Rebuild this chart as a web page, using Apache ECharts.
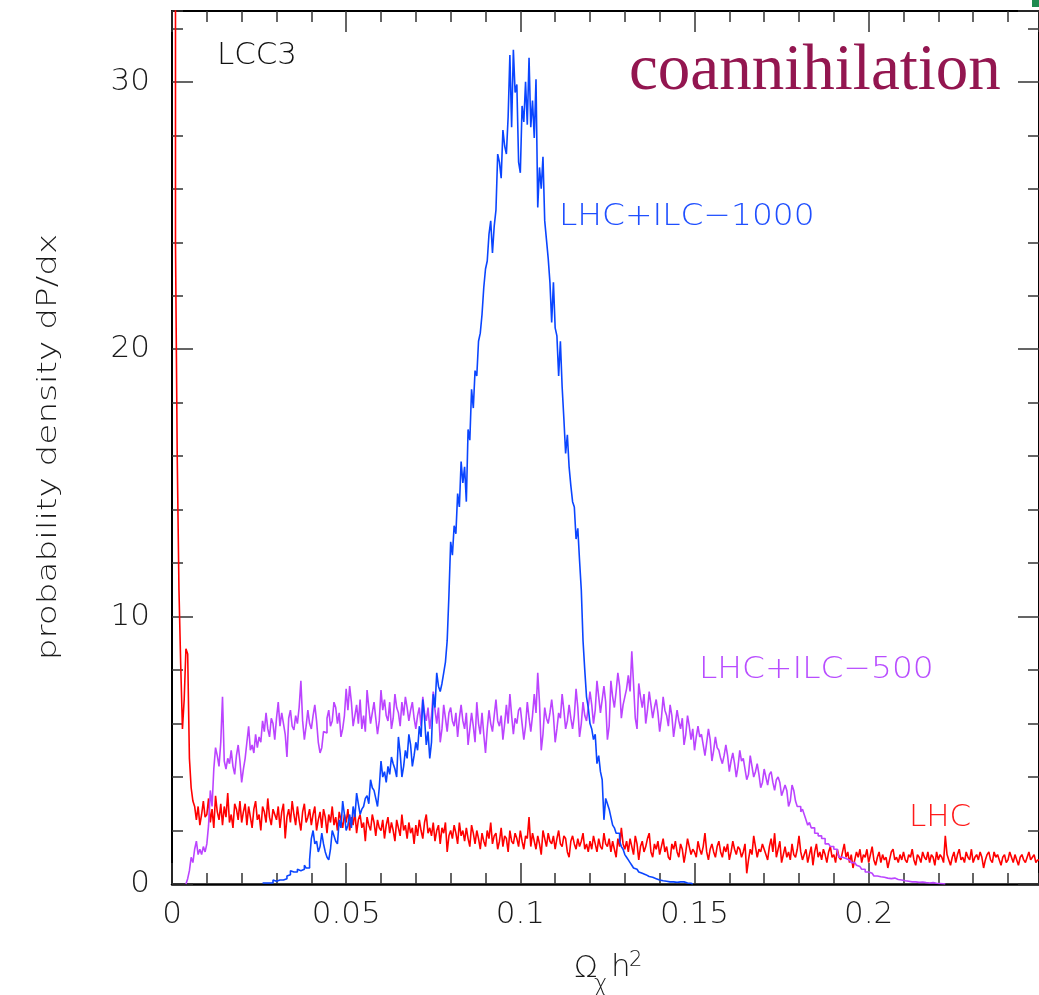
<!DOCTYPE html>
<html>
<head>
<meta charset="utf-8">
<script src="https://cdn.jsdelivr.net/npm/echarts@6/dist/echarts.min.js"></script>
<style>
  html, body { margin: 0; padding: 0; background: #fff; }
  #chart { width: 1039px; height: 995px; }
</style>
</head>
<body>
<div id="chart"></div>
<script>
// histogram bins, width 0.0005 in Omega h^2
const binWidth = 0.0005

// LHC (red), bins starting at 0, one row = 0.01
const lhcStart = 0
const lhc = [
  60, 60, 24, 16, 11, 8.2, 5.8, 6.9, 8.8, 8.6, 4.7, 3.6, 3.1, 2.9, 2.4, 2.9, 2.2, 2.6, 3.1, 2.5,
  2.6, 3.2, 2.3, 2.8, 2.1, 3.3, 2.7, 2.4, 3.0, 2.2, 2.9, 2.5, 3.4, 2.3, 2.6, 2.1, 3.0, 2.8, 2.4, 3.1,
  2.3, 2.7, 3.0, 2.2, 2.9, 2.5, 2.1, 2.8, 3.1, 2.4, 2.6, 2.0, 2.9, 2.7, 2.3, 3.2, 2.5, 2.2, 2.8, 2.6,
  2.4, 2.9, 2.1, 2.7, 3.0, 1.7, 2.5, 2.8, 2.3, 3.1, 2.6, 2.2, 2.9, 2.4, 2.0, 2.7, 3.0, 2.3, 2.5, 2.8,
  2.2, 2.6, 2.9, 2.0, 2.4, 2.7, 2.1, 2.8, 2.5, 1.9, 2.6, 2.3, 2.9, 2.2, 2.5, 2.0, 2.7, 2.4, 2.1, 2.6,
  2.3, 2.8, 2.0, 2.5, 2.2, 2.7, 1.9, 2.4, 2.6, 2.1, 2.3, 1.6, 2.5, 2.2, 2.0, 2.6, 2.3, 1.8, 2.4, 2.1,
  2.0, 2.4, 1.7, 2.2, 2.5, 1.9, 2.3, 2.0, 1.6, 2.4, 2.1, 1.8, 2.6, 2.0, 2.2, 1.7, 2.3, 1.9, 2.1, 1.5,
  2.2, 1.8, 2.4, 2.0, 1.7, 2.3, 2.6, 1.9, 2.1, 1.8, 2.3, 1.6, 2.0, 2.2, 1.5, 2.1, 1.9, 2.3, 1.2, 1.8,
  2.0, 1.7, 2.2, 1.9, 1.5, 2.3, 1.8, 2.0, 1.6, 2.1, 1.7, 1.4, 2.2, 1.9, 1.5, 2.0, 1.7, 1.3, 1.9, 1.6,
  1.4, 2.0, 1.7, 2.3, 1.5, 1.8, 1.9, 1.3, 1.6, 2.1, 1.4, 1.8, 1.7, 1.2, 2.0, 1.6, 1.5, 1.9, 1.7, 1.4,
  2.0, 1.6, 1.3, 1.8, 1.7, 2.5, 1.4, 1.9, 1.6, 1.3, 1.8, 1.5, 1.1, 2.0, 1.7, 1.4, 1.9, 1.6, 1.5, 1.8,
  1.3, 1.7, 2.0, 1.5, 1.4, 1.8, 1.7, 1.2, 1.0, 1.6, 1.8, 1.5, 1.3, 1.7, 1.4, 1.6, 1.9, 1.3, 1.5, 1.2,
  1.6, 1.3, 1.8, 1.5, 1.2, 1.7, 1.4, 1.3, 1.9, 1.5, 1.4, 1.7, 1.2, 1.6, 1.3, 1.0, 1.7, 1.4, 2.1, 1.5,
  1.3, 1.6, 1.2, 1.7, 1.4, 1.1, 1.8, 1.5, 0.9, 1.4, 1.6, 1.2, 1.4, 1.7, 1.9, 1.2, 1.0, 1.5, 1.3, 1.6,
  1.1, 1.4, 1.7, 1.2, 1.4, 1.0, 0.9, 1.5, 1.3, 1.6, 1.2, 1.0, 1.5, 1.3, 0.8, 1.2, 1.7, 1.4, 1.1, 1.3,
  1.2, 1.0, 1.6, 1.3, 1.1, 1.4, 1.9, 1.2, 0.9, 1.3, 1.5, 1.2, 1.0, 1.4, 1.6, 1.2, 1.0, 1.4, 1.2, 1.5,
  0.9, 1.2, 1.6, 1.3, 1.1, 1.4, 1.3, 1.0, 1.2, 1.5, 0.4, 0.9, 1.3, 1.1, 1.8, 1.4, 1.0, 1.3, 1.2, 1.5,
  1.3, 1.1, 0.9, 1.4, 1.7, 1.2, 1.9, 1.0, 1.3, 1.6, 0.8, 1.1, 1.4, 1.0, 1.2, 0.9, 1.5, 1.1, 1.0, 1.3,
  1.8, 1.2, 0.9, 1.1, 1.3, 0.8, 1.1, 1.4, 0.7, 1.2, 1.5, 1.0, 1.2, 0.9, 1.3, 1.1, 0.8, 1.2, 1.4, 1.0,
  1.1, 0.8, 1.3, 1.0, 0.9, 1.2, 1.5, 1.0, 1.2, 0.8, 1.1, 0.6, 0.9, 1.2, 1.0, 1.3, 0.8, 1.1, 1.0, 1.3,
  0.8, 1.1, 1.4, 0.9, 0.7, 1.0, 1.2, 0.8, 1.1, 0.9, 1.0, 0.6, 0.9, 1.2, 1.3, 0.9, 1.0, 0.8, 1.1, 0.9,
  1.2, 0.9, 0.8, 1.1, 1.0, 1.3, 0.9, 0.7, 1.1, 1.0, 0.8, 1.2, 1.0, 0.9, 1.2, 0.8, 1.1, 1.0, 0.7, 1.2,
  0.9, 1.1, 1.0, 0.8, 1.8, 1.1, 0.9, 0.7, 1.0, 1.2, 0.8, 1.1, 1.3, 0.9, 1.0, 0.8, 1.2, 1.0, 0.9, 1.3,
  0.8, 1.0, 1.1, 0.9, 1.2, 1.0, 0.6, 0.9, 1.1, 1.2, 0.9, 0.8, 1.2, 1.0, 1.1, 0.9, 0.7, 1.0, 1.1, 0.8,
  0.9, 1.2, 1.0, 0.8, 1.1, 0.9, 0.7, 1.0, 1.1, 0.9, 0.8, 1.0, 1.2, 0.9, 1.0, 1.1, 0.8, 0.9
]

// LHC+ILC-500 (purple), bins starting at 0.004
const ilc500Start = 0.004
const ilc500 = [
  0, 0.2, 0.5, 1.0, 0.8, 1.3, 1.6, 1.1, 1.3, 1.1, 1.4, 1.2,
  1.5, 2.2, 3.5, 2.9, 4.3, 5.1, 4.8, 4.4, 5.3, 7.0, 4.6, 4.3, 4.7, 4.5, 5.0, 4.4, 4.1, 4.8, 5.2, 4.6,
  3.8, 4.3, 4.7, 5.3, 5.9, 5.0, 5.2, 4.9, 5.6, 5.1, 5.5, 5.3, 6.1, 5.7, 6.4, 5.8, 5.5, 6.2, 6.0, 5.4,
  6.2, 6.8, 5.9, 6.4, 6.0, 5.6, 4.75, 6.2, 6.5, 5.9, 5.76, 6.3, 6.0, 6.6, 7.6, 6.1, 5.4, 5.9, 6.5, 6.0,
  5.8, 6.3, 6.7, 6.1, 5.3, 4.9, 5.1, 5.7, 5.65, 6.2, 6.5, 5.9, 6.1, 6.8, 6.6, 6.0, 6.4, 5.5, 5.8, 6.3,
  7.3, 6.5, 7.4, 6.8, 5.9, 6.3, 6.7, 6.0, 6.9, 5.8, 6.3, 5.7, 7.25, 6.6, 6.0, 6.4, 6.8, 6.2, 5.6, 6.1,
  7.25, 6.5, 6.9, 6.3, 6.1, 6.8, 5.8, 6.2, 7.1, 6.6, 6.4, 5.9, 6.8, 6.3, 7.0, 6.6, 6.1, 6.5, 6.8, 6.2,
  5.8, 6.3, 6.6, 5.9, 7.0, 6.4, 6.1, 6.6, 5.8, 6.3, 7.2, 6.5, 6.0, 6.6, 5.3, 5.8, 6.7, 6.2, 5.7, 6.4,
  6.6, 6.1, 5.9, 6.4, 5.5, 6.2, 6.7, 6.1, 5.8, 6.4, 5.2, 5.8, 6.4, 5.9, 5.3, 6.8, 6.0, 5.6, 6.4, 5.6,
  4.9, 5.8, 6.5, 6.0, 5.7, 6.3, 6.9, 6.1, 5.9, 6.3, 5.4, 6.0, 6.7, 6.0, 7.1, 6.3, 5.6, 6.2, 6.0, 6.5,
  6.6, 6.0, 5.4, 5.9, 6.8, 6.2, 5.7, 6.3, 7.1, 6.4, 7.9, 6.8, 5.0, 5.6, 6.6, 6.2, 6.0, 6.4, 6.9, 6.3,
  5.3, 5.8, 6.4, 6.2, 7.1, 6.5, 5.8, 6.1, 6.7, 6.2, 5.8, 6.3, 7.3, 6.6, 5.5, 6.0, 6.8, 6.3, 6.1, 6.6,
  7.2, 6.7, 6.0, 6.5, 7.6, 7.0, 6.4, 6.9, 7.4, 6.8, 5.4, 5.9, 7.6, 7.0, 6.6, 7.2, 7.9, 7.4, 6.2, 6.7,
  7.0, 7.3, 7.8, 7.2, 8.7, 7.5, 6.2, 5.8, 7.5, 7.0, 6.6, 7.1, 6.0, 6.5, 7.2, 6.7, 6.2, 6.6, 6.9, 6.4,
  5.7, 6.2, 7.0, 6.5, 6.3, 5.9, 6.7, 6.3, 5.5, 6.0, 6.5, 6.1, 5.8, 6.2, 5.2, 5.6, 6.3, 5.9, 5.4, 5.8,
  5.0, 5.5, 5.9, 5.5, 5.6, 5.2, 4.8, 5.3, 5.8, 5.4, 4.6, 5.0, 5.5, 5.1, 5.0, 4.7, 4.5, 4.8, 5.2, 4.8,
  4.2, 4.6, 4.9, 4.5, 4.0, 4.4, 5.0, 4.6, 4.7, 4.3, 3.9, 4.1, 4.8, 4.4, 4.0, 4.2, 4.5, 4.1, 3.6, 3.8,
  4.3, 4.0, 3.7, 4.1, 4.2, 3.8, 3.5, 3.9, 4.0, 3.8, 3.3, 3.5, 3.7, 3.5, 2.9, 3.1, 3.7, 3.5, 3.1, 2.9,
  2.9, 2.7, 2.8, 2.6, 2.4, 2.2, 2.3, 2.1, 2.1, 1.9, 1.9, 1.8, 1.8, 1.7, 1.7, 1.5, 1.5, 1.5, 1.4, 1.4,
  1.3, 1.3, 1.2, 1.0, 1.0, 1.0, 0.95, 0.9, 0.9, 0.85, 0.8, 0.8, 0.75, 0.7, 0.65, 0.6, 0.55, 0.55, 0.45, 0.45,
  0.4, 0.4, 0.35, 0.3, 0.3, 0.3, 0.27, 0.27, 0.25, 0.25, 0.22, 0.22, 0.2, 0.2, 0.22, 0.2, 0.17, 0.17, 0.15, 0.15,
  0.12, 0.12, 0.1, 0.1, 0.08, 0.08, 0.08, 0.08, 0.06, 0.06, 0.07, 0.07, 0.05, 0.05, 0.04, 0.04, 0.05, 0.03, 0.03, 0.02,
  0.02, 0.01, 0.01, 0
]

// LHC+ILC-1000 (blue), bins starting at 0.026
const ilc1000Start = 0.026
const ilc1000 = [
  0.04, 0.04, 0, 0.04, 0.08, 0.04, 0.15, 0.1,
  0.12, 0.15, 0.2, 0.15, 0.15, 0.2, 0.3, 0.35, 0.5, 0.45, 0.4, 0.45, 0.55, 0.5, 0.45, 0.55, 0.7, 0.6, 0.6, 0.9,
  1.7, 2.0, 1.5, 1.6, 1.2, 1.4, 1.9, 1.5, 1.2, 1.0, 0.9, 1.3, 2.0, 1.8, 1.6, 1.5, 2.4, 2.1, 3.1, 2.6,
  2.0, 2.2, 2.6, 2.1, 2.9, 2.5, 3.4, 3.0, 2.6, 2.8, 2.9, 3.2, 3.3, 3.0, 3.9, 3.6, 3.5, 3.2, 2.9, 3.6,
  4.6, 4.0, 4.2, 3.8, 4.4, 4.1, 4.75, 4.5, 4.3, 4.0, 5.5, 4.9, 4.0, 4.4, 5.0, 4.7, 5.6, 5.2, 4.4, 4.8,
  5.3, 5.0, 5.9, 5.5, 6.9, 6.2, 5.2, 5.7, 4.7, 5.3, 7.1, 6.6, 7.9, 7.4, 7.2, 7.5, 7.9, 8.3, 9.1, 10.8,
  12.8, 12.3, 13.4, 13.1, 14.6, 14.1, 15.8, 15.0, 15.6, 14.3, 17.0, 16.6, 18.5, 17.8, 19.2, 19.0, 20.3, 20.6, 21.3, 22.3,
  23.0, 23.3, 24.3, 24.8, 23.6, 24.6, 25.2, 27.3, 27.0, 26.4, 28.2, 27.6, 27.3, 28.7, 31.0, 28.3, 31.2, 29.6, 29.9, 27.0,
  26.6, 29.1, 28.5, 30.0, 28.4, 30.9, 28.3, 29.3, 27.9, 30.1, 25.3, 26.8, 26.0, 27.2, 24.8, 24.1, 23.4, 22.5, 21.0, 22.5,
  20.8, 20.5, 19.0, 20.3, 18.6, 17.4, 16.1, 16.8, 15.6, 14.9, 14.3, 14.1, 12.9, 13.3, 12.1, 11.0, 9.1, 8.0, 7.0, 6.6,
  6.0, 5.8, 5.4, 5.6, 4.5, 4.8, 4.2, 3.9, 2.4, 3.2, 3.0, 2.8, 2.5, 2.2, 2.1, 1.9, 1.9, 1.6, 1.4, 1.3,
  1.1, 1.0, 0.9, 0.8, 0.7, 0.6, 0.55, 0.5, 0.45, 0.4, 0.4, 0.35, 0.3, 0.28, 0.27, 0.25, 0.2, 0.2, 0.18, 0.15,
  0.15, 0.12, 0.12, 0.1, 0.1, 0.08, 0.08, 0.08, 0.08, 0.06, 0.06, 0.08, 0.05, 0.08, 0.05, 0.04, 0.05, 0.03, 0
]

// axis ranges and ticks
const xMax = 0.2489
const yMax = 32.65
const xMajor = 0.05
const xMinor = 0.01
const yMajor = 10
const yMinor = 2

function toSteps(start, values) {
    let pts = values.map((v, i) => [start + i * binWidth, v])
    pts.push([start + values.length * binWidth, values[values.length - 1]])
    return pts
}

function plot(){
    let box = document.querySelector("#chart")
    let myChart = echarts.init(box)
    const thin = { fontFamily: "DejaVu Sans", fontWeight: 200 }
    const tickColor = "#333"
    function xAx(pos, interval, len, main){
        return {
            type: 'value', position: pos, min: 0, max: xMax, interval: interval,
            axisLine: { show: main, onZero: false, lineStyle: { color: "#000", width: pos === 'bottom' ? 2.5 : 2 } },
            axisTick: { show: true, inside: true, length: len, lineStyle: { color: tickColor, width: 1.5 } },
            axisLabel: main && pos === 'bottom' ? {
                show: true, margin: 15, fontSize: 31, color: "#1a1a1a", showMaxLabel: false,
                fontFamily: thin.fontFamily, fontWeight: thin.fontWeight
            } : { show: false },
            splitLine: { show: false }
        }
    }
    function yAx(pos, interval, len, main){
        return {
            type: 'value', position: pos, min: 0, max: yMax, interval: interval,
            axisLine: { show: main, onZero: false, lineStyle: { color: "#000", width: 2 } },
            axisTick: { show: true, inside: true, length: len, lineStyle: { color: tickColor, width: 1.5 } },
            axisLabel: main && pos === 'left' ? {
                show: true, margin: 22, fontSize: 31, color: "#1a1a1a", showMaxLabel: false,
                fontFamily: thin.fontFamily, fontWeight: thin.fontWeight
            } : { show: false },
            splitLine: { show: false }
        }
    }
    function txt(x, y, text, size, color, stretch, family, weight){
        return {
            type: 'text', x: x, y: y, z: 10, scaleX: stretch || 1,
            style: {
                text: text, fill: color, fontSize: size,
                fontFamily: family || thin.fontFamily, fontWeight: weight || thin.fontWeight,
                align: 'left', verticalAlign: 'middle'
            }
        }
    }
    let option = {
        animation: false,
        backgroundColor: "#fff",
        grid: { left: 172, top: 11, width: 871, height: 873, containLabel: false },
        xAxis: [
            xAx('bottom', xMajor, 21, true),
            xAx('bottom', xMinor, 11, false),
            xAx('top', xMajor, 21, true),
            xAx('top', xMinor, 11, false)
        ],
        yAxis: [
            yAx('left', yMajor, 21, true),
            yAx('left', yMinor, 11, false),
            yAx('right', yMajor, 21, true),
            yAx('right', yMinor, 11, false)
        ],
        graphic: [
            txt(217, 56, "LCC3", 30, "#111", 1.03),
            txt(629, 72, "coannihilation", 65, "#931650", 1, "Liberation Serif", "normal"),
            txt(559, 217, "LHC+ILC\u22121000", 31, "#1f4fff", 1.06),
            txt(699, 670, "LHC+ILC\u2212500", 31, "#b84dff", 1.06),
            txt(909, 818, "LHC", 31, "#ff1a1a"),
            {
                type: 'text', x: 49, y: 447, rotation: Math.PI / 2, scaleX: 1.27, z: 10,
                style: {
                    text: "probability density dP/dx", fill: "#1a1a1a", fontSize: 27,
                    fontFamily: thin.fontFamily, fontWeight: thin.fontWeight,
                    align: 'center', verticalAlign: 'middle'
                }
            },
            txt(574, 969, "\u03A9", 31, "#1a1a1a"),
            txt(594, 985, "\u03C7", 23, "#1a1a1a"),
            txt(611, 968, "h", 31, "#1a1a1a"),
            txt(629, 961, "2", 21, "#1a1a1a"),
            { type: 'rect', shape: { x: 1032, y: 0, width: 8, height: 7 }, style: { fill: "#1f8a50" } }
        ],
        series: [
            {
                name: 'LHC', type: 'line', step: 'end', data: toSteps(lhcStart, lhc),
                showSymbol: false, clip: true,
                lineStyle: { color: "#ff0000", width: 1.6 }
            },
            {
                name: 'LHC+ILC-500', type: 'line', step: 'end', data: toSteps(ilc500Start, ilc500),
                showSymbol: false, clip: true,
                lineStyle: { color: "#bb44ff", width: 1.6 }
            },
            {
                name: 'LHC+ILC-1000', type: 'line', step: 'end', data: toSteps(ilc1000Start, ilc1000),
                showSymbol: false, clip: true,
                lineStyle: { color: "#0a45ff", width: 1.6 }
            }
        ]
    }
    myChart.setOption(option)
}
plot()
</script>
</body>
</html>
